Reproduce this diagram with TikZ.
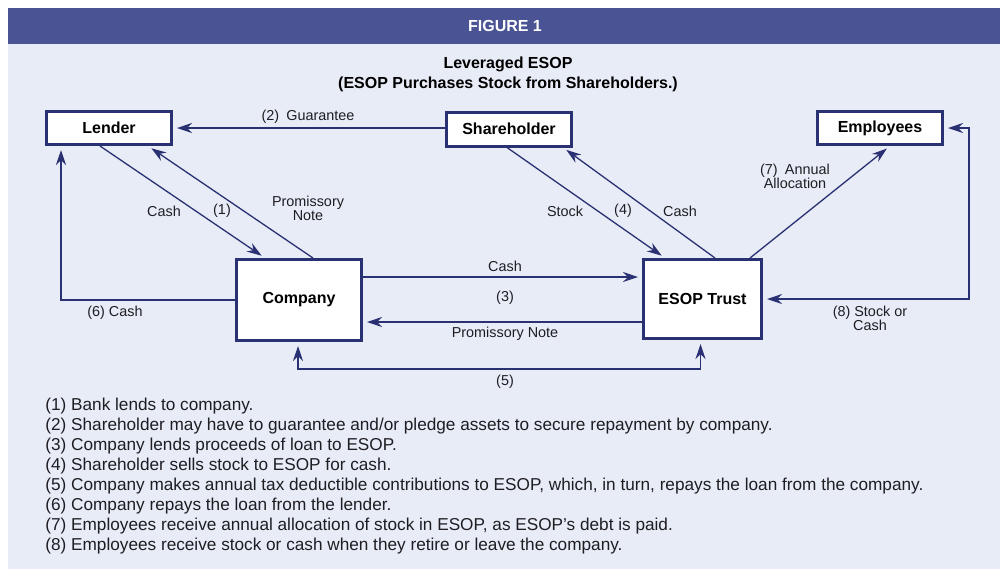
\documentclass[tikz,border=0pt]{standalone}
\usepackage{fontspec}
\setmainfont{Liberation Sans}
\usetikzlibrary{arrows.meta,calc}

\definecolor{bandblue}{HTML}{4A5494}
\definecolor{paleblue}{HTML}{E8ECF7}
\definecolor{navy}{HTML}{2A3172}
\definecolor{ink}{HTML}{1E1E22}

\tikzset{
  >={Stealth[length=7.5pt,width=5pt,inset=2.5pt]},
  party/.style={draw=navy,line width=1.5pt,fill=white,text=black,
    font=\bfseries\fontsize{8}{9.6}\selectfont,inner sep=0pt,
    minimum width=62.5pt},
  flow/.style={navy,line width=0.65pt,->,shorten >=2pt},
  flowlabel/.style={text=ink,font=\fontsize{7.2}{7}\selectfont,
    align=center,inner sep=0pt},
  note/.style={text=ink,font=\fontsize{8.6}{10}\selectfont,
    anchor=base west,inner sep=0pt}
}

\begin{document}
\begin{tikzpicture}[x=0.5pt,y=-0.5pt]
\useasboundingbox (0,0) rectangle (1000,569);

% panel and heading band
\fill[white] (0,0) rectangle (1000,569);
\fill[paleblue] (8,8) rectangle (1000,569);
\fill[bandblue] (8,8) rectangle (1000,44);
\node[text=white,font=\bfseries\fontsize{8}{9.6}\selectfont] (fig) at (505,26) {FIGURE 1};
\node[text=black,font=\bfseries\fontsize{8}{10}\selectfont,align=center] (title) at (508,74)
  {Leveraged ESOP\\(ESOP Purchases Stock from Shareholders.)};

% parties
\node[party,minimum height=16.5pt] (lender) at (109,128) {Lender};
\node[party,minimum height=17pt] (holder) at (509,129) {Shareholder};
\node[party,minimum height=16.5pt] (staff) at (880,128) {Employees};
\node[party,minimum height=40.5pt] (company) at (299,300) {Company};
\node[party,minimum width=59pt,minimum height=39.5pt] (trust) at (702.5,299) {ESOP Trust};

\coordinate (c5) at (500,369);
\coordinate (c8) at (969,200);

% flows between the parties
\draw[flow] (holder.west |- lender.east) -- (lender.east);
\draw[flow] ([xshift=-4.5pt]lender.south) -- ([xshift=-17pt]company.north);
\draw[flow] ([xshift=7pt]company.north) -- ([xshift=19.5pt]lender.south);
\draw[flow] ([xshift=-1pt]holder.south) -- ([xshift=-18.75pt]trust.north);
\draw[flow] ([xshift=6.25pt]trust.north) -- ([xshift=27pt]holder.south);
\draw[flow] ([xshift=23.75pt]trust.north) -- ([xshift=5pt]staff.south);
\draw[flow] ([yshift=11.5pt]company.east) -- ([yshift=11.5pt]company.east -| trust.west);
\draw[flow] ([yshift=-11.5pt]trust.west) -- ([yshift=-11.5pt]trust.west -| company.east);
\draw[flow,<->,shorten <=2pt] ([xshift=-0.5pt]company.south) |- (c5) -| ([xshift=-1pt]trust.south);
\draw[flow] (company.west) -| ([xshift=8pt]lender.south west);
\draw[flow,<->,shorten <=2pt] (trust.east) -| (c8) |- (staff.east);

% flow labels
\node[flowlabel] (l2) at (308,117) {(2)\enspace Guarantee};
\node[flowlabel] (l1cash) at (164,211) {Cash};
\node[flowlabel] (l1) at (222,211) {(1)};
\node[flowlabel] (l1note) at (308,208) {Promissory\\Note};
\node[flowlabel] (l4stock) at (565,211) {Stock};
\node[flowlabel] (l4) at (623,211) {(4)};
\node[flowlabel] (l4cash) at (680,211) {Cash};
\node[flowlabel] (l7) at (795,176) {(7)\enspace Annual\\Allocation};
\node[flowlabel] (l3cash) at (505,266) {Cash};
\node[flowlabel] (l3) at (505,298) {(3)};
\node[flowlabel] (l3note) at (505,334) {Promissory Note};
\node[flowlabel] (l5) at (505,382) {(5)};
\node[flowlabel] (l6) at (115,313) {(6) Cash};
\node[flowlabel] (l8) at (870,318) {(8) Stock or\\Cash};

% numbered notes
\foreach \notetext [count=\i] in {
  {(1) Bank lends to company.},
  {(2) Shareholder may have to guarantee and/or pledge assets to secure repayment by company.},
  {(3) Company lends proceeds of loan to ESOP.},
  {(4) Shareholder sells stock to ESOP for cash.},
  {(5) Company makes annual tax deductible contributions to ESOP, which, in turn, repays the loan from the company.},
  {(6) Company repays the loan from the lender.},
  {(7) Employees receive annual allocation of stock in ESOP, as ESOP’s debt is paid.},
  {(8) Employees receive stock or cash when they retire or leave the company.}}
  \node[note] (note\i) at (45,{410+20.1*(\i-1)}) {\notetext};
\end{tikzpicture}
\end{document}
